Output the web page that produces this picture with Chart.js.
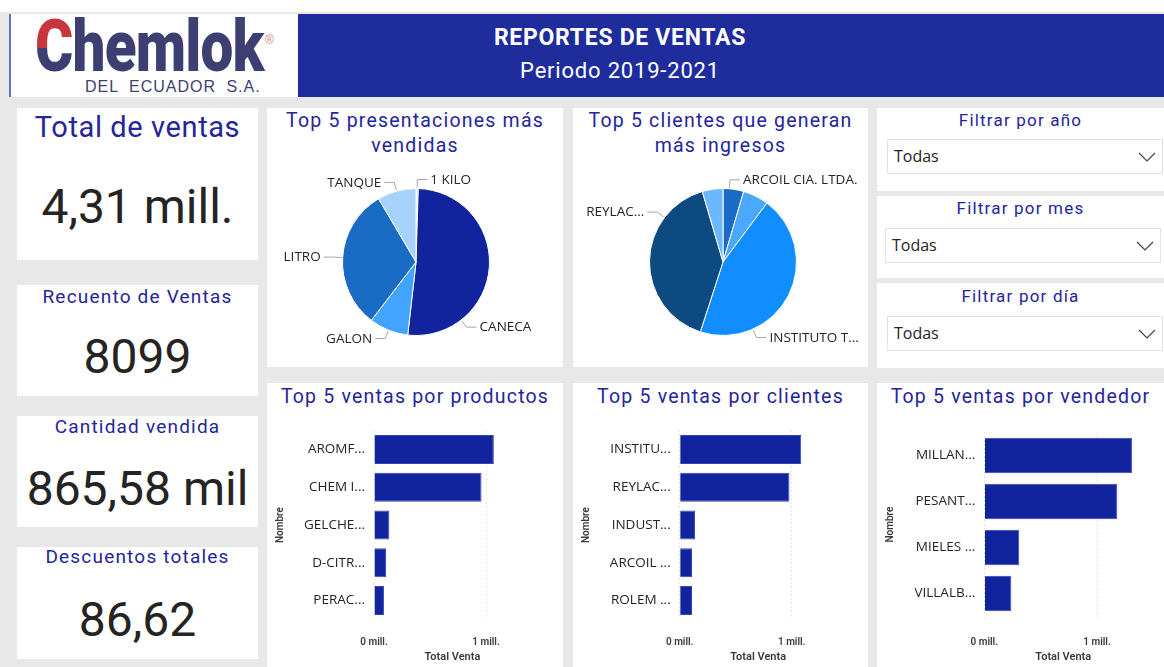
<!DOCTYPE html>
<html lang="es">
<head>
<meta charset="utf-8">
<title>Reportes de ventas</title>
<script src="https://cdn.jsdelivr.net/npm/chart.js@4.4.1/dist/chart.umd.min.js"></script>
<style>
  html, body { margin: 0; padding: 0; }
  body {
    width: 1164px; height: 667px; overflow: hidden; position: relative;
    background: #e8e8e8; font-family: Roboto, "Noto Sans", sans-serif;
  }
  .abs { position: absolute; }
  .panel { position: absolute; background: #fff; }
  .topband { left: 0; top: 0; width: 1164px; height: 12px; background: #fff; }
  .logo { left: 9px; top: 14px; width: 289px; height: 83px; background: #fff; border-left: 2px solid #5f73c9; box-sizing: border-box; }
  .brand {
    position: absolute; left: 24px; top: -8px; font-family: Roboto, sans-serif; font-weight: 900;
    font-size: 73px; line-height: 80px; color: #3d3f73; letter-spacing: -1px;
    transform: scaleX(0.8); transform-origin: left top; white-space: nowrap;
  }
  .brand .c {
    background: linear-gradient(to bottom, #c7363d 0%, #c7363d 52%, #3d3f73 52%, #3d3f73 100%);
    -webkit-background-clip: text; background-clip: text; color: transparent;
  }
  .reg { position: absolute; left: 254px; top: 19px; font-size: 12px; color: #e58080; font-family: "Liberation Sans", sans-serif; }
  .sub {
    position: absolute; left: 74px; top: 63px; font-family: "Liberation Sans", Arial, sans-serif;
    font-size: 16px; line-height: 20px; color: #40416f; letter-spacing: 1px; word-spacing: 5px; white-space: nowrap;
  }
  .header { left: 298px; top: 14px; width: 866px; height: 83px; background: #1f2c9b; }
  .htitle { position: absolute; left: 420px; width: 400px; text-align: center; color: #fff; white-space: nowrap; }
  .t { position: absolute; text-align: center; color: #25259a; white-space: nowrap; letter-spacing: 1.2px; }
  .v { position: absolute; text-align: center; color: #252423; white-space: nowrap; font-size: 48px; line-height: 54px; }
  .dd { position: absolute; left: 887px; width: 276px; height: 35px; background: #fff; border: 1px solid #e4e4e4; box-sizing: border-box; }
  .dd span { position: absolute; left: 6px; top: 0; line-height: 33px; font-family: "Open Sans", sans-serif; font-size: 16px; color: #252423; }
  .dd svg { position: absolute; right: 6px; top: 12px; }
  .cv { position: absolute; }
</style>
</head>
<body>
  <div class="abs topband"></div>

  <!-- Encabezado -->
  <div class="abs logo">
    <div class="brand"><span class="c">C</span>hemlok</div>
    <div class="reg">®</div>
    <div class="sub">DEL ECUADOR S.A.</div>
  </div>
  <div class="abs header"></div>
  <div class="htitle" style="top:24px;font-weight:700;font-size:23px;line-height:28px;letter-spacing:0.7px;">REPORTES DE VENTAS</div>
  <div class="htitle" style="top:57px;font-size:22px;line-height:28px;letter-spacing:0.8px;">Periodo 2019-2021</div>

  <!-- Tarjetas de totales -->
  <div class="panel" style="left:17px;top:108px;width:241px;height:152px;"></div>
  <div class="panel" style="left:17px;top:285px;width:241px;height:111px;"></div>
  <div class="panel" style="left:17px;top:416px;width:241px;height:111px;"></div>
  <div class="panel" style="left:17px;top:547px;width:241px;height:112px;"></div>

  <div class="t" id="kpiTitle0" style="left:17px;width:241px;top:110px;font-size:29px;line-height:34px;letter-spacing:0.6px;"></div>
  <div class="v" id="kpiValue0" style="left:17px;width:241px;top:180px;"></div>
  <div class="t" id="kpiTitle1" style="left:17px;width:241px;top:285px;font-size:19px;line-height:24px;"></div>
  <div class="v" id="kpiValue1" style="left:17px;width:241px;top:330px;"></div>
  <div class="t" id="kpiTitle2" style="left:17px;width:241px;top:415px;font-size:19px;line-height:24px;"></div>
  <div class="v" id="kpiValue2" style="left:17px;width:241px;top:462px;"></div>
  <div class="t" id="kpiTitle3" style="left:17px;width:241px;top:545px;font-size:19px;line-height:24px;"></div>
  <div class="v" id="kpiValue3" style="left:17px;width:241px;top:593px;"></div>

  <!-- Gráficos circulares -->
  <div class="panel" style="left:267px;top:108px;width:296px;height:259px;"></div>
  <div class="panel" style="left:573px;top:108px;width:295px;height:259px;"></div>
  <div class="t" style="left:267px;width:296px;top:108px;font-size:19.5px;line-height:25px;">Top 5 presentaciones más<br>vendidas</div>
  <div class="t" style="left:573px;width:295px;top:108px;font-size:19.5px;line-height:25px;">Top 5 clientes que generan<br>más ingresos</div>
  <div class="cv" style="left:268px;top:150px;width:296px;height:224px;"><canvas id="piePresentaciones"></canvas></div>
  <div class="cv" style="left:575px;top:150px;width:296px;height:224px;"><canvas id="pieClientes"></canvas></div>

  <!-- Segmentadores -->
  <div class="panel" style="left:877px;top:108px;width:287px;height:83px;"></div>
  <div class="panel" style="left:877px;top:196px;width:287px;height:82px;"></div>
  <div class="panel" style="left:877px;top:283px;width:287px;height:85px;"></div>
  <div class="t" style="left:877px;width:287px;top:108px;font-size:17px;line-height:24px;">Filtrar por año</div>
  <div class="t" style="left:877px;width:287px;top:196px;font-size:17px;line-height:24px;">Filtrar por mes</div>
  <div class="t" style="left:877px;width:287px;top:284px;font-size:17px;line-height:24px;">Filtrar por día</div>
  <div class="dd" style="top:139px;"><span>Todas</span><svg width="18" height="10" viewBox="0 0 18 10"><polyline points="1,1 9,9 17,1" fill="none" stroke="#444" stroke-width="1.2"/></svg></div>
  <div class="dd" style="top:228px;left:885px;"><span>Todas</span><svg width="18" height="10" viewBox="0 0 18 10"><polyline points="1,1 9,9 17,1" fill="none" stroke="#444" stroke-width="1.2"/></svg></div>
  <div class="dd" style="top:316px;"><span>Todas</span><svg width="18" height="10" viewBox="0 0 18 10"><polyline points="1,1 9,9 17,1" fill="none" stroke="#444" stroke-width="1.2"/></svg></div>

  <!-- Gráficos de barras -->
  <div class="panel" style="left:267px;top:383px;width:296px;height:284px;"></div>
  <div class="panel" style="left:573px;top:383px;width:295px;height:284px;"></div>
  <div class="panel" style="left:877px;top:383px;width:287px;height:284px;"></div>
  <div class="t" style="left:267px;width:296px;top:384px;font-size:19.5px;line-height:26px;">Top 5 ventas por productos</div>
  <div class="t" style="left:573px;width:295px;top:384px;font-size:19.5px;line-height:26px;">Top 5 ventas por clientes</div>
  <div class="t" style="left:877px;width:287px;top:384px;font-size:19.5px;line-height:26px;">Top 5 ventas por vendedor</div>
  <div class="cv" style="left:267px;top:410px;width:296px;height:257px;"><canvas id="barProductos"></canvas></div>
  <div class="cv" style="left:573px;top:410px;width:295px;height:257px;"><canvas id="barClientes"></canvas></div>
  <div class="cv" style="left:877px;top:410px;width:287px;height:257px;"><canvas id="barVendedores"></canvas></div>

<script>
// ---- Indicadores ----
const kpiTitles = ['Total de ventas', 'Recuento de Ventas', 'Cantidad vendida', 'Descuentos totales'];
const kpiValues = ['4,31 mill.', '8099', '865,58 mil', '86,62'];

// ---- Presentaciones (participación %) ----
const presentaciones = ['1 KILO', 'CANECA', 'GALON', 'LITRO', 'TANQUE'];
const presentacionesShare = [0.5, 51.3, 8.6, 31.1, 8.5];

// ---- Clientes (millones) ----
const clientesPie = ['ARCOIL CIA. LTDA.', 'INDUST...', 'INSTITUTO T...', 'REYLAC...', 'ROLEM ...'];
const clientesPieVentas = [0.11, 0.137, 1.085, 0.98, 0.11];

// ---- Top 5 ventas (millones) ----
const productos = ['AROMF...', 'CHEM I...', 'GELCHE...', 'D-CITR...', 'PERAC...'];
const productosVentas = [1.07, 0.96, 0.137, 0.107, 0.089];
const clientes = ['INSTITU...', 'REYLAC...', 'INDUST...', 'ARCOIL ...', 'ROLEM ...'];
const clientesVentas = [1.085, 0.98, 0.137, 0.11, 0.11];
const vendedores = ['MILLAN...', 'PESANT...', 'MIELES ...', 'VILLALB...'];
const vendedoresVentas = [1.31, 1.18, 0.31, 0.24];

kpiTitles.forEach((t, i) => { document.getElementById('kpiTitle' + i).textContent = t; });
kpiValues.forEach((v, i) => { document.getElementById('kpiValue' + i).textContent = v; });

Chart.defaults.font.family = '"Open Sans", "Noto Sans", sans-serif';
Chart.defaults.color = '#252423';

// Etiquetas con línea guía: índice del sector y posición relativa dentro del arco
const leaderSpecs = {
  piePresentaciones: [
    { index: 0, at: 0.5 }, { index: 1, at: 0.76 }, { index: 2, at: 0.5 },
    { index: 3, at: 0.5 }, { index: 4, at: 0.5 }
  ],
  pieClientes: [
    { index: 0, at: 0.3 }, { index: 2, at: 0.74 }, { index: 3, at: 0.75 }
  ]
};

const leaderLabels = {
  id: 'leaderLabels',
  afterDatasetsDraw(chart) {
    const specs = leaderSpecs[chart.canvas.id] || [];
    const arcs = chart.getDatasetMeta(0).data;
    const ctx = chart.ctx;
    ctx.save();
    ctx.font = '13.5px "Open Sans", "Noto Sans", sans-serif';
    ctx.textBaseline = 'middle';
    ctx.lineWidth = 1;
    specs.forEach(s => {
      const arc = arcs[s.index];
      const p = arc.getProps(['x', 'y', 'startAngle', 'endAngle', 'outerRadius'], true);
      const a = p.startAngle + (p.endAngle - p.startAngle) * s.at;
      const cx = Math.cos(a), sy = Math.sin(a);
      const x0 = p.x + cx * (p.outerRadius + 1), y0 = p.y + sy * (p.outerRadius + 1);
      const x1 = p.x + cx * (p.outerRadius + 9), y1 = p.y + sy * (p.outerRadius + 9);
      const dir = cx >= 0 ? 1 : -1;
      const x2 = x1 + dir * 10;
      ctx.strokeStyle = '#a6a6a6';
      ctx.beginPath();
      ctx.moveTo(x0, y0); ctx.lineTo(x1, y1); ctx.lineTo(x2, y1);
      ctx.stroke();
      ctx.fillStyle = '#252423';
      ctx.textAlign = dir > 0 ? 'left' : 'right';
      ctx.fillText(chart.data.labels[s.index], x2 + dir * 3, y1 + 0.5);
    });
    ctx.restore();
  }
};

function pieChart(id, labels, values, colors) {
  return new Chart(document.getElementById(id), {
    type: 'pie',
    data: { labels, datasets: [{ data: values, backgroundColor: colors, borderColor: '#ffffff', borderWidth: 1 }] },
    options: {
      responsive: true, maintainAspectRatio: false, animation: false,
      layout: { padding: { top: 38, bottom: 38, left: 0, right: 0 } },
      plugins: { legend: { display: false }, tooltip: { enabled: false } }
    },
    plugins: [leaderLabels]
  });
}

pieChart('piePresentaciones', presentaciones, presentacionesShare,
  ['#d9d9d9', '#12239e', '#41a4ff', '#1a6bc4', '#a7d2fb']);
pieChart('pieClientes', clientesPie, clientesPieVentas,
  ['#1a6bc4', '#4aa9ff', '#118dff', '#0c4a80', '#6cb8ff']);

function barChart(id, labels, values, fit) {
  return new Chart(document.getElementById(id), {
    type: 'bar',
    data: {
      labels,
      datasets: [{
        data: values, backgroundColor: '#12239e', borderColor: '#3546b8', borderWidth: 1,
        barPercentage: 0.77, categoryPercentage: 1
      }]
    },
    options: {
      indexAxis: 'y', responsive: true, maintainAspectRatio: false, animation: false,
      layout: { padding: { top: fit.top, right: fit.right, left: 0, bottom: 0 } },
      plugins: { legend: { display: false }, tooltip: { enabled: false } },
      scales: {
        x: {
          min: 0, max: 1.4,
          afterBuildTicks: s => { s.ticks = s.ticks.filter(t => Number.isInteger(t.value)); },
          afterFit: s => { s.height = fit.xh; },
          ticks: {
            stepSize: 1, padding: fit.tickPad, maxRotation: 0,
            callback: v => v + ' mill.',
            font: { family: 'Roboto, sans-serif', size: 10, weight: '600' }, color: '#3b3a39'
          },
          grid: { color: '#cfcfcf', drawTicks: false, tickLength: 0 },
          border: { display: false, dash: [1, 3] },
          title: {
            display: true, text: 'Total Venta', color: '#3b3a39',
            font: { family: 'Roboto, sans-serif', size: 11, weight: '600' },
            padding: { top: 0, bottom: 3.4 }
          }
        },
        y: {
          afterFit: s => { s.width = fit.yw; },
          ticks: { padding: 9, font: { size: 13.5 }, color: '#252423' },
          grid: { display: false, drawTicks: false, tickLength: 0 },
          border: { display: false },
          title: {
            display: true, text: 'Nombre', color: '#3b3a39',
            font: { family: 'Roboto, sans-serif', size: 10, weight: '600' },
            padding: { top: 7, bottom: 0 }
          }
        }
      }
    }
  });
}

barChart('barProductos', productos, productosVentas, { top: 20.6, right: 32.2, xh: 47.6, yw: 107, tickPad: 16.6 });
barChart('barClientes', clientes, clientesVentas, { top: 20.6, right: 31.5, xh: 47.6, yw: 106.7, tickPad: 16.6 });
barChart('barVendedores', vendedores, vendedoresVentas, { top: 22.5, right: 21.9, xh: 50.5, yw: 107.3, tickPad: 19.5 });
</script>
</body>
</html>
